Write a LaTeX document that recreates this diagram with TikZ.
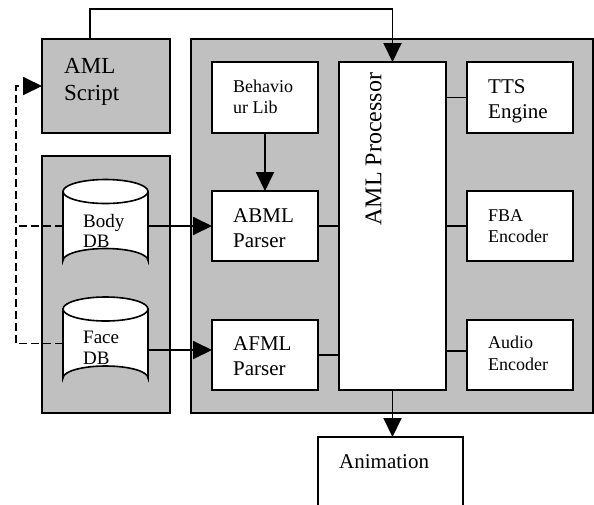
\documentclass[tikz,border=0pt]{standalone}
\usepackage{fontspec}
\setmainfont{Liberation Serif}
\usetikzlibrary{arrows.meta}
\definecolor{panel}{RGB}{192,192,192}
\begin{document}
\begin{tikzpicture}[x=1pt,y=-1pt,
  box/.style={draw, line width=1.9pt, fill=white, inner sep=0pt, outer sep=0pt},
  panelbox/.style={draw, line width=1.9pt, fill=panel, inner sep=0pt, outer sep=0pt},
  dbnode/.style={inner sep=0pt, outer sep=0pt, minimum width=85pt, minimum height=93pt},
  cyl/.style={draw, line width=1.6pt, fill=white},
  conn/.style={line width=1.9pt},
  arr/.style={line width=1.9pt, -{Triangle[length=19pt,width=18pt]}},
  dashline/.style={line width=1.9pt, dash pattern=on 8pt off 4pt},
  txt/.style={inner sep=0pt, anchor=base west, align=left}
]
\clip (0,0) rectangle (594,504);
% panels
\node[panelbox, minimum width=402pt, minimum height=374pt] (bigpanel) at (392,226) {};
\node[panelbox, minimum width=128pt, minimum height=257pt] (leftpanel) at (106,284.5) {};
\node[panelbox, minimum width=128pt, minimum height=94pt] (script) at (106,86) {};
% boxes
\node[box, minimum width=106pt, minimum height=71pt] (behav) at (265,97.5) {};
\node[box, minimum width=106pt, minimum height=70pt] (abml) at (265,226) {};
\node[box, minimum width=106pt, minimum height=70pt] (afml) at (265,355) {};
\node[box, minimum width=107pt, minimum height=328pt] (proc) at (392.5,226) {};
\node[box, minimum width=106pt, minimum height=71pt] (tts) at (520,97.5) {};
\node[box, minimum width=106pt, minimum height=70pt] (fba) at (520,226) {};
\node[box, minimum width=106pt, minimum height=70pt] (audio) at (520,355) {};
\node[box, minimum width=145pt, minimum height=93pt] (anim) at (390.5,483.5) {};
% databases
\node[dbnode] (body) at (105.5,226) {};
\node[dbnode] (face) at (105.5,343.5) {};
\foreach \c in {body,face}{
  \path[cyl] ([yshift=-12pt]\c.north west) -- ([yshift=12pt]\c.south west)
     arc[start angle=180,end angle=0,x radius=42.5pt,y radius=12pt]
     -- ([yshift=-12pt]\c.north east) -- cycle;
  \path[cyl] ([yshift=-12pt]\c.north) ellipse[x radius=42.5pt,y radius=12pt];
}
% texts (anchor = baseline of last line)
\node[txt, font=\fontsize{23}{27}\selectfont] (tscript) at (64,100) {AML\\Script};
\node[txt, font=\fontsize{18}{21}\selectfont] (tbehav) at (233,113) {Behavio\\ur Lib};
\node[txt, font=\fontsize{21}{25}\selectfont] (tabml) at (233,247) {ABML\\Parser};
\node[txt, font=\fontsize{21}{25}\selectfont] (tafml) at (233,375) {AFML\\Parser};
\node[txt, font=\fontsize{21}{25}\selectfont] (ttts) at (488,118) {TTS\\Engine};
\node[txt, font=\fontsize{18}{21}\selectfont] (tfba) at (488,242) {FBA\\Encoder};
\node[txt, font=\fontsize{18}{22}\selectfont] (taudio) at (488,370) {Audio\\Encoder};
\node[txt, font=\fontsize{19}{20}\selectfont] (tbody) at (83,247) {Body\\DB};
\node[txt, font=\fontsize{19}{21}\selectfont] (tface) at (83,364) {Face\\DB};
\node[txt, font=\fontsize{21}{25}\selectfont] (tanim) at (339,468) {Animation};
\node[inner sep=0pt, rotate=90, font=\fontsize{24}{28}\selectfont] (tproc) at (373.5,149) {AML Processor};
% connectors
\coordinate (dx) at (16,86);
\draw[arr] ([xshift=-16pt]script.north) -- ++(0,-30) -| (proc.north);
\draw[arr] (behav.south) -- (abml.north);
\draw[arr] (body.east) -- (body.east -| abml.west);
\draw[arr] ([yshift=-6.5pt]face.east) coordinate (fa) -- (fa -| afml.west);
\draw[dashline] (body.west) -- (body.west -| dx);
\draw[dashline, -{Triangle[length=19pt,width=18pt]}] (face.west) -| (dx) -- (script.west);
\draw[conn] (abml.east) -- (abml.east -| proc.west);
\draw[conn] (afml.east) -- (afml.east -| proc.west);
\draw[conn] (tts.west) -- (tts.west -| proc.east);
\draw[conn] (fba.west) -- (fba.west -| proc.east);
\draw[conn] ([yshift=4pt]audio.west) coordinate (au) -- (au -| proc.east);
\draw[arr] (proc.south) -- (proc.south |- anim.north);
\end{tikzpicture}
\end{document}
